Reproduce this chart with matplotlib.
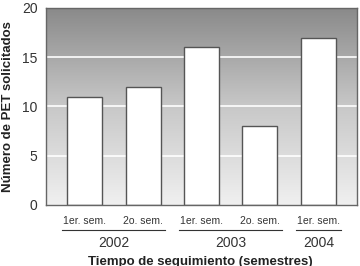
import numpy as np
import matplotlib.pyplot as plt
from matplotlib.colors import LinearSegmentedColormap

plt.rcParams['font.family'] = ['Liberation Sans', 'DejaVu Sans']

semestres = ['1er. sem.', '2o. sem.', '1er. sem.', '2o. sem.', '1er. sem.']
pet = [11, 12, 16, 8, 17]
anios = ['2002', '2003', '2004']
grupos = [(0, 1), (2, 3), (4, 4)]

fig = plt.figure(figsize=(3.6, 2.66), dpi=100)
ax = fig.add_axes([46/360, 1 - 205/266, 311/360, 197/266])

x = np.arange(len(pet))
ax.set_xlim(-0.66, 4.66)
ax.set_ylim(0, 20)

# fondo degradado
cmap = LinearSegmentedColormap.from_list('g', ['#f0f0f0', '#c8c8c8', '#8a8a8a'])
grad = np.linspace(0, 1, 256).reshape(-1, 1)
ax.imshow(grad, cmap=cmap, aspect='auto', extent=[-0.66, 4.66, 0, 20],
          origin='lower', zorder=0)

for yv in [5, 10, 15]:
    ax.axhline(yv, color='white', lw=1.2, zorder=1)

ax.bar(x, pet, width=0.6, color='white', edgecolor='#555555', lw=1.0, zorder=2)

for s in ax.spines.values():
    s.set_color('#666666')
    s.set_linewidth(1.0)

ax.set_yticks([0, 5, 10, 15, 20])
ax.tick_params(axis='y', length=0, labelsize=10, colors='#333333', pad=6)
ax.set_xticks(x)
ax.set_xticklabels(semestres, fontsize=7.5, color='#333333')
ax.tick_params(axis='x', length=0, pad=8)

for (a, b), anio in zip(grupos, anios):
    ax.plot([a - 0.38, b + 0.38], [-2.55, -2.55], color='#333333', lw=0.8,
            clip_on=False)
    ax.text((a + b) / 2, -3.1, anio, ha='center', va='top', fontsize=10,
            color='#333333')

ax.set_ylabel('Número de PET solicitados', fontsize=9.5, fontweight='bold',
              color='#222222', labelpad=6)
fig.text(200/360, 1 - 256/266, 'Tiempo de seguimiento (semestres)', ha='center',
         va='top', fontsize=9.5, fontweight='bold', color='#222222')

fig.savefig('out.png', dpi=100)
